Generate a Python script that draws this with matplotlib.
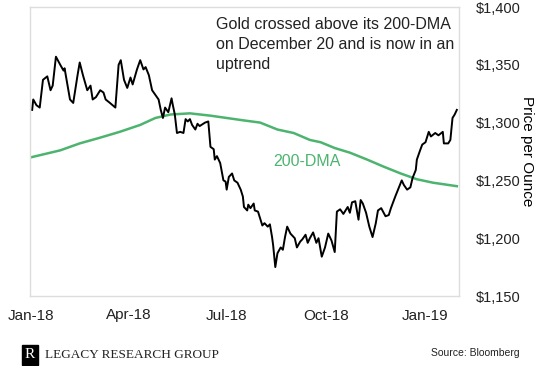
import matplotlib
matplotlib.use("Agg")
import matplotlib.pyplot as plt
import matplotlib.ticker as mticker
import pandas as pd

# gold price
price_dates = [
    "2018-01-02", "2018-01-03", "2018-01-06", "2018-01-09", "2018-01-12", "2018-01-16",
    "2018-01-19", "2018-01-21", "2018-01-24", "2018-01-28", "2018-01-31", "2018-02-01",
    "2018-02-06", "2018-02-09", "2018-02-13", "2018-02-15", "2018-02-18", "2018-02-22",
    "2018-02-25", "2018-02-27", "2018-03-02", "2018-03-06", "2018-03-09", "2018-03-11",
    "2018-03-15", "2018-03-20", "2018-03-23", "2018-03-25", "2018-03-28", "2018-03-31",
    "2018-04-03", "2018-04-05", "2018-04-09", "2018-04-12", "2018-04-15", "2018-04-17",
    "2018-04-20", "2018-04-23", "2018-04-26", "2018-04-29", "2018-05-01", "2018-05-03",
    "2018-05-05", "2018-05-08", "2018-05-11", "2018-05-12", "2018-05-14", "2018-05-16",
    "2018-05-19", "2018-05-22", "2018-05-24", "2018-05-26", "2018-05-28", "2018-05-30",
    "2018-06-02", "2018-06-04", "2018-06-06", "2018-06-11", "2018-06-14", "2018-06-16",
    "2018-06-19", "2018-06-20", "2018-06-22", "2018-06-25", "2018-06-28", "2018-06-30",
    "2018-07-01", "2018-07-03", "2018-07-06", "2018-07-08", "2018-07-11", "2018-07-14",
    "2018-07-16", "2018-07-17", "2018-07-20", "2018-07-21", "2018-07-23", "2018-07-26",
    "2018-07-27", "2018-07-30", "2018-08-03", "2018-08-05", "2018-08-08", "2018-08-10",
    "2018-08-12", "2018-08-13", "2018-08-15", "2018-08-17", "2018-08-20", "2018-08-22",
    "2018-08-24", "2018-08-26", "2018-08-29", "2018-09-01", "2018-09-02", "2018-09-04",
    "2018-09-07", "2018-09-09", "2018-09-12", "2018-09-14", "2018-09-16", "2018-09-19",
    "2018-09-22", "2018-09-24", "2018-09-27", "2018-09-30", "2018-10-03", "2018-10-06",
    "2018-10-09", "2018-10-11", "2018-10-14", "2018-10-17", "2018-10-21", "2018-10-23",
    "2018-10-25", "2018-10-28", "2018-10-31", "2018-11-02", "2018-11-04", "2018-11-07",
    "2018-11-10", "2018-11-13", "2018-11-16", "2018-11-18", "2018-11-21", "2018-11-25",
    "2018-11-28", "2018-11-30", "2018-12-04", "2018-12-07", "2018-12-10", "2018-12-12",
    "2018-12-15", "2018-12-18", "2018-12-20", "2018-12-23", "2018-12-24", "2018-12-27",
    "2018-12-29", "2019-01-01", "2019-01-04", "2019-01-06", "2019-01-10", "2019-01-13",
    "2019-01-17", "2019-01-18", "2019-01-22", "2019-01-24", "2019-01-26", "2019-01-28",
    "2019-01-30",
]
price = [
    1311, 1320, 1315, 1313, 1337, 1340,
    1328, 1332, 1357, 1350, 1345, 1347,
    1320, 1317, 1341, 1352, 1341, 1328,
    1332, 1320, 1322, 1328, 1326, 1320,
    1317, 1313, 1350, 1354, 1337, 1330,
    1339, 1333, 1346, 1354, 1346, 1348,
    1341, 1328, 1324, 1320, 1311, 1304,
    1313, 1309, 1321, 1316, 1307, 1291,
    1292, 1291, 1303, 1301, 1303, 1298,
    1294, 1299, 1297, 1300, 1301, 1279,
    1277, 1268, 1271, 1265, 1250, 1249,
    1242, 1253, 1256, 1250, 1248, 1242,
    1236, 1227, 1224, 1229, 1226, 1230,
    1224, 1223, 1211, 1213, 1210, 1212,
    1201, 1194, 1175, 1187, 1192, 1190,
    1201, 1210, 1204, 1201, 1200, 1192,
    1197, 1199, 1203, 1196, 1200, 1205,
    1196, 1200, 1184, 1192, 1204, 1198,
    1188, 1223, 1225, 1221, 1227, 1222,
    1231, 1232, 1216, 1233, 1230, 1222,
    1210, 1201, 1213, 1224, 1226, 1219,
    1220, 1226, 1236, 1243, 1250, 1246,
    1242, 1244, 1252, 1259, 1268, 1276,
    1281, 1283, 1292, 1288, 1291, 1289,
    1292, 1282, 1282, 1285, 1304, 1307,
    1311,
]

# 200-day moving average
dma_dates = [
    "2018-01-01", "2018-01-28", "2018-02-15", "2018-03-06", "2018-03-24", "2018-04-12",
    "2018-04-26", "2018-05-10", "2018-05-28", "2018-06-16", "2018-07-01", "2018-07-16",
    "2018-08-01", "2018-08-17", "2018-09-01", "2018-09-16", "2018-09-26", "2018-10-09",
    "2018-10-23", "2018-11-08", "2018-11-23", "2018-12-09", "2018-12-24", "2019-01-08",
    "2019-01-30",
]
dma = [
    1270, 1276, 1282, 1287, 1292, 1298,
    1304, 1307, 1308, 1306, 1304, 1302,
    1300, 1294, 1291, 1285, 1283, 1278,
    1274, 1268, 1262, 1256, 1251, 1248,
    1245,
]

tick_dates = ["2018-01-01", "2018-04-01", "2018-07-01", "2018-10-01", "2019-01-01"]
tick_labels = ["Jan-18", "Apr-18", "Jul-18", "Oct-18", "Jan-19"]
y_ticks = [1150, 1200, 1250, 1300, 1350, 1400]

GREEN = "#4cb46e"
plt.rcParams["font.family"] = ["Liberation Sans", "DejaVu Sans"]

fig = plt.figure(figsize=(5.5, 3.66), dpi=100)
ax = fig.add_axes([30 / 550, 1 - 296 / 366, 429 / 550, 289 / 366])

ax.plot(pd.to_datetime(dma_dates), dma, color=GREEN, lw=1.8)
ax.plot(pd.to_datetime(price_dates), price, color="black", lw=1.4)

ax.set_xlim(pd.Timestamp("2017-12-31"), pd.Timestamp("2019-02-01"))
ax.set_ylim(1150, 1400)
ax.set_xticks(pd.to_datetime(tick_dates))
ax.set_xticklabels(tick_labels)
ax.set_yticks(y_ticks)
ax.yaxis.set_major_formatter(mticker.FuncFormatter(lambda v, p: "${:,.0f}".format(v)))
ax.yaxis.tick_right()
ax.yaxis.set_label_position("right")
ax.tick_params(length=0, labelsize=11, colors="#222222")
ax.tick_params(axis="y", pad=12, labelsize=10.5)
ax.tick_params(axis="x", pad=9)
ax.set_ylabel("Price per Ounce", rotation=270, fontsize=11, labelpad=10)
for s in ax.spines.values():
    s.set_color("#dddddd")
    s.set_linewidth(1)

ax.text(0.433, 0.965, "Gold crossed above its 200-DMA\non December 20 and is now in an\nuptrend",
        transform=ax.transAxes, ha="left", va="top", fontsize=11.5, linespacing=1.4, color="#222222")
ax.text(pd.Timestamp("2018-08-13"), 1266, "200-DMA", color=GREEN, fontsize=11.5, va="center")

# footer
fig.text(30 / 550, 1 - 355 / 366, "R", ha="center", va="center", color="white", fontsize=11,
         family="Liberation Serif",
         bbox=dict(boxstyle="square,pad=0.2", fc="black", ec="black"))
fig.text(45 / 550, 1 - 355 / 366, "LEGACY RESEARCH GROUP", ha="left", va="center",
         fontsize=9.5, family="Liberation Serif", color="#222222")
fig.text(520 / 550, 1 - 353 / 366, "Source: Bloomberg", ha="right", va="center",
         fontsize=7.5, color="#222222")

fig.savefig("out.png", dpi=100)
